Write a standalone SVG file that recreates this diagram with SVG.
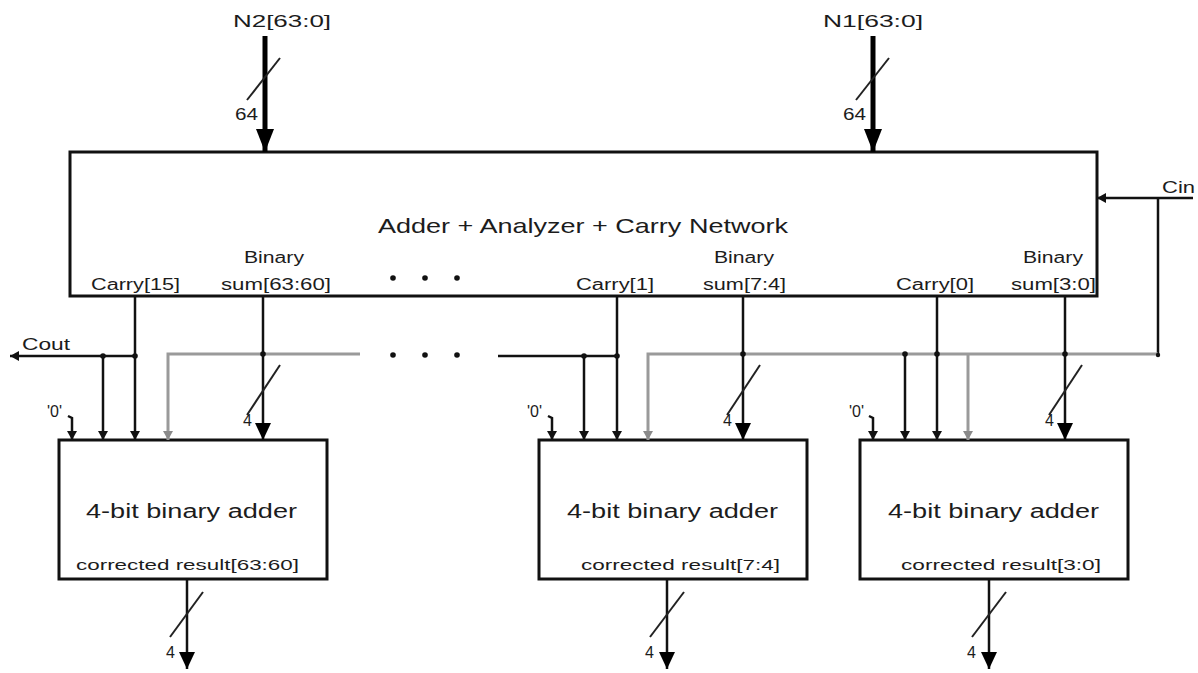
<svg xmlns="http://www.w3.org/2000/svg" width="1198" height="673" viewBox="0 0 1198 673">
  <style>
    text { font-family: "Liberation Sans", Arial, sans-serif; fill: #1c1c1c; }
    .box { fill: #ffffff; stroke: #111; stroke-width: 3; }
    .lbl { font-size: 16px; }
    .big { font-size: 21px; }
    .mid { font-size: 20px; }
    .res { font-size: 15px; }
    .w { font-size: 16px; }
    .wire { fill: none; stroke: #111; stroke-width: 2.5; }
    .grey { fill: none; stroke: #9a9a9a; stroke-width: 3; }
    .bus { fill: none; stroke: #000; stroke-width: 5; }
    .slash { fill: none; stroke: #222; stroke-width: 2; }
    .dot { fill: #111; }
  </style>
  <defs>
    <marker id="arrS" markerUnits="userSpaceOnUse" markerWidth="10" markerHeight="10" refX="9" refY="5" orient="auto">
      <path d="M0,0 L9,5 L0,10 Z" fill="#111"/>
    </marker>
    <marker id="arrG" markerUnits="userSpaceOnUse" markerWidth="10" markerHeight="10" refX="9" refY="5" orient="auto">
      <path d="M0,0 L9,5 L0,10 Z" fill="#8a8a8a"/>
    </marker>
    <marker id="arrB" markerUnits="userSpaceOnUse" markerWidth="18" markerHeight="16" refX="17" refY="8" orient="auto">
      <path d="M0,0 L17,8 L0,16 Z" fill="#000"/>
    </marker>
    <marker id="arrN" markerUnits="userSpaceOnUse" markerWidth="24" markerHeight="18" refX="23" refY="9" orient="auto">
      <path d="M0,0 L23,9 L0,18 Z" fill="#000"/>
    </marker>
  </defs>

  <!-- main adder block -->
  <g id="main-block">
    <rect class="box" x="70" y="152" width="1027" height="144"/>
    <text class="big" x="378" y="233" textLength="410" lengthAdjust="spacingAndGlyphs">Adder + Analyzer + Carry Network</text>
    <text class="lbl" x="91" y="290" textLength="89" lengthAdjust="spacingAndGlyphs">Carry[15]</text>
    <text class="lbl" x="244" y="263" textLength="60" lengthAdjust="spacingAndGlyphs">Binary</text>
    <text class="lbl" x="221" y="290" textLength="110" lengthAdjust="spacingAndGlyphs">sum[63:60]</text>
    <text class="lbl" x="576" y="290" textLength="78" lengthAdjust="spacingAndGlyphs">Carry[1]</text>
    <text class="lbl" x="714" y="263" textLength="60" lengthAdjust="spacingAndGlyphs">Binary</text>
    <text class="lbl" x="703" y="290" textLength="83" lengthAdjust="spacingAndGlyphs">sum[7:4]</text>
    <text class="lbl" x="896" y="290" textLength="78" lengthAdjust="spacingAndGlyphs">Carry[0]</text>
    <text class="lbl" x="1023" y="263" textLength="60" lengthAdjust="spacingAndGlyphs">Binary</text>
    <text class="lbl" x="1011" y="290" textLength="85" lengthAdjust="spacingAndGlyphs">sum[3:0]</text>
    <circle class="dot" cx="393" cy="278" r="2.8"/>
    <circle class="dot" cx="425" cy="278" r="2.8"/>
    <circle class="dot" cx="457" cy="278" r="2.8"/>
  </g>

  <!-- 4-bit adder blocks -->
  <g id="adder-63-60">
    <rect class="box" x="59" y="440" width="268" height="139"/>
    <text class="mid" x="86" y="518" textLength="211" lengthAdjust="spacingAndGlyphs">4-bit binary adder</text>
    <text class="res" x="76" y="570" textLength="223" lengthAdjust="spacingAndGlyphs">corrected result[63:60]</text>
  </g>
  <g id="adder-7-4">
    <rect class="box" x="539" y="440" width="268" height="139"/>
    <text class="mid" x="567" y="518" textLength="211" lengthAdjust="spacingAndGlyphs">4-bit binary adder</text>
    <text class="res" x="581" y="570" textLength="199" lengthAdjust="spacingAndGlyphs">corrected result[7:4]</text>
  </g>
  <g id="adder-3-0">
    <rect class="box" x="860" y="440" width="268" height="139"/>
    <text class="mid" x="888" y="518" textLength="211" lengthAdjust="spacingAndGlyphs">4-bit binary adder</text>
    <text class="res" x="901" y="570" textLength="200" lengthAdjust="spacingAndGlyphs">corrected result[3:0]</text>
  </g>

  <!-- connectors -->
  <g id="connectors">
    <!-- operand buses -->
    <line class="bus" x1="265" y1="36" x2="265" y2="152" marker-end="url(#arrN)"/>
    <line class="slash" x1="280" y1="58" x2="247" y2="100"/>
    <text class="w" x="235" y="120" textLength="23" lengthAdjust="spacingAndGlyphs">64</text>
    <text class="lbl" x="233" y="27" textLength="98" lengthAdjust="spacingAndGlyphs">N2[63:0]</text>

    <line class="bus" x1="873" y1="36" x2="873" y2="152" marker-end="url(#arrN)"/>
    <line class="slash" x1="889" y1="58" x2="856" y2="100"/>
    <text class="w" x="843" y="120" textLength="23" lengthAdjust="spacingAndGlyphs">64</text>
    <text class="lbl" x="823" y="27" textLength="100" lengthAdjust="spacingAndGlyphs">N1[63:0]</text>

    <!-- carry in -->
    <text class="lbl" x="1162" y="193" textLength="33" lengthAdjust="spacingAndGlyphs">Cin</text>
    <polyline class="wire" points="1193,198 1097,198" marker-end="url(#arrS)"/>
    <polyline class="wire" points="1158,198 1158,355"/>

    <!-- shared grey lines -->
    <polyline class="grey" points="360,354 168,354 168,440" marker-end="url(#arrG)"/>
    <polyline class="grey" points="1158,354 648,354 648,440" marker-end="url(#arrG)"/>
    <polyline class="grey" points="968,354 968,440" marker-end="url(#arrG)"/>
    <circle class="dot" cx="393" cy="355" r="2.8"/>
    <circle class="dot" cx="425" cy="355" r="2.8"/>
    <circle class="dot" cx="457" cy="355" r="2.8"/>

    <!-- block 63:60 -->
    <text class="w" x="47" y="417">'0'</text>
    <polyline class="wire" points="68,416 72,418 72,440" marker-end="url(#arrS)"/>
    <polyline class="wire" points="135,356 10,356" marker-end="url(#arrS)"/>
    <text class="lbl" x="22" y="350" textLength="48" lengthAdjust="spacingAndGlyphs">Cout</text>
    <line class="wire" x1="103" y1="356" x2="103" y2="440" marker-end="url(#arrS)"/>
    <line class="wire" x1="135" y1="296" x2="135" y2="440" marker-end="url(#arrS)"/>
    <line class="wire" x1="263" y1="296" x2="263" y2="440" marker-end="url(#arrB)"/>
    <line class="slash" x1="280" y1="365" x2="247" y2="415"/>
    <text class="w" x="243" y="426">4</text>
    <circle class="dot" cx="103" cy="356" r="2.8"/>
    <circle class="dot" cx="135" cy="356" r="2.8"/>
    <circle class="dot" cx="263" cy="354" r="2.8"/>
    <line class="wire" x1="187" y1="579" x2="187" y2="669" marker-end="url(#arrB)"/>
    <line class="slash" x1="203" y1="592" x2="170" y2="637"/>
    <text class="w" x="166" y="658">4</text>

    <!-- block 7:4 -->
    <text class="w" x="527" y="417">'0'</text>
    <polyline class="wire" points="548,416 552,418 552,440" marker-end="url(#arrS)"/>
    <polyline class="wire" points="498,356 617,356"/>
    <line class="wire" x1="584" y1="356" x2="584" y2="440" marker-end="url(#arrS)"/>
    <line class="wire" x1="617" y1="296" x2="617" y2="440" marker-end="url(#arrS)"/>
    <line class="wire" x1="743" y1="296" x2="743" y2="440" marker-end="url(#arrB)"/>
    <line class="slash" x1="760" y1="365" x2="727" y2="415"/>
    <text class="w" x="723" y="426">4</text>
    <circle class="dot" cx="584" cy="356" r="2.8"/>
    <circle class="dot" cx="617" cy="356" r="2.8"/>
    <circle class="dot" cx="743" cy="354" r="2.8"/>
    <line class="wire" x1="667" y1="579" x2="667" y2="669" marker-end="url(#arrB)"/>
    <line class="slash" x1="684" y1="592" x2="650" y2="637"/>
    <text class="w" x="645" y="658">4</text>

    <!-- block 3:0 -->
    <text class="w" x="849" y="417">'0'</text>
    <polyline class="wire" points="869,416 873,418 873,440" marker-end="url(#arrS)"/>
    <line class="wire" x1="905" y1="354" x2="905" y2="440" marker-end="url(#arrS)"/>
    <line class="wire" x1="937" y1="296" x2="937" y2="440" marker-end="url(#arrS)"/>
    <line class="wire" x1="1065" y1="296" x2="1065" y2="440" marker-end="url(#arrB)"/>
    <line class="slash" x1="1082" y1="365" x2="1049" y2="415"/>
    <text class="w" x="1045" y="426">4</text>
    <circle class="dot" cx="905" cy="354" r="2.8"/>
    <circle class="dot" cx="937" cy="354" r="2.8"/>
    <circle class="dot" cx="1065" cy="354" r="2.8"/>
    <circle class="dot" cx="1158" cy="355" r="2.2"/>
    <line class="wire" x1="989" y1="579" x2="989" y2="669" marker-end="url(#arrB)"/>
    <line class="slash" x1="1006" y1="592" x2="972" y2="637"/>
    <text class="w" x="967" y="658">4</text>
  </g>
</svg>
